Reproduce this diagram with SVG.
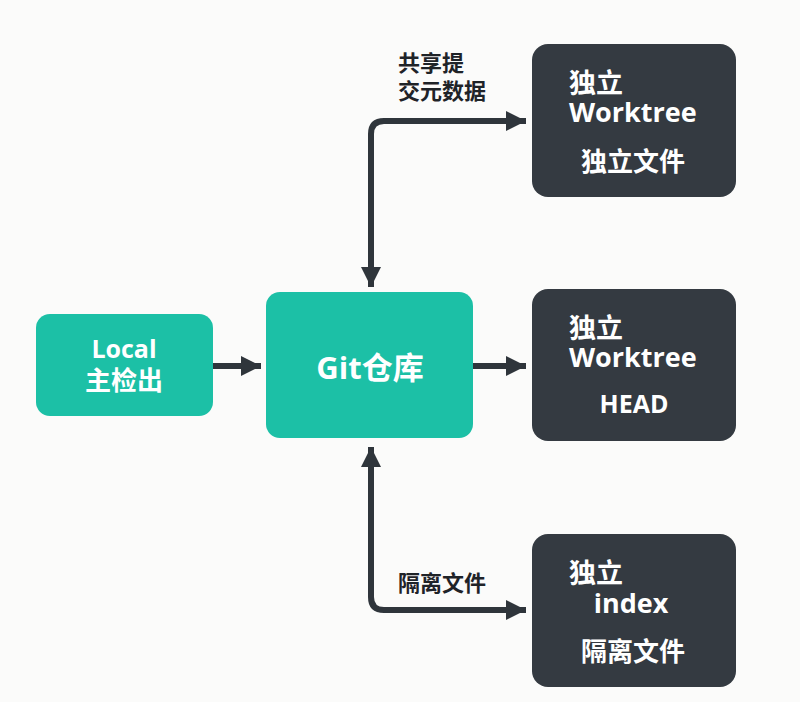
<svg xmlns="http://www.w3.org/2000/svg" width="800" height="702" viewBox="0 0 800 702">
<defs>
<style>
.teal{fill:#1cc0a6}
.dark{fill:#343a41}
.t{font-family:"Open Sans","Noto Sans CJK SC",sans-serif;font-weight:bold;fill:#ffffff}
.lbl{font-family:"Noto Sans CJK SC","Noto Sans",sans-serif;font-weight:bold;fill:#1f2328;font-size:22px}
.conn{fill:none;stroke:#2f353b;stroke-width:6}
</style>
<marker id="ah" viewBox="0 0 10 10" refX="10" refY="5" markerWidth="3.4" markerHeight="3.4" markerUnits="strokeWidth" orient="auto-start-reverse">
<path d="M0,0 L10,5 L0,10 Z" fill="#2f353b"/>
</marker>
</defs>
<rect width="800" height="702" fill="#fbfbfa"/>
<g id="connectors">
<path class="conn" d="M212,366 L261,366" marker-end="url(#ah)"/>
<path class="conn" d="M473,366 L526,366" marker-end="url(#ah)"/>
<path class="conn" d="M526,121 L384,121 Q371,121 371,134 L371,287" marker-start="url(#ah)" marker-end="url(#ah)"/>
<path class="conn" d="M371,447 L371,597 Q371,610 384,610 L526,610" marker-start="url(#ah)" marker-end="url(#ah)"/>
<text class="lbl" x="398" y="71">共享提</text>
<text class="lbl" x="398" y="99">交元数据</text>
<text class="lbl" x="398" y="591">隔离文件</text>
</g>
<g id="local">
<rect class="teal" x="36" y="314" width="177" height="102" rx="14"/>
<text class="t" x="124" y="358" font-size="25" text-anchor="middle">Local</text>
<text class="t" x="124" y="390" font-size="26" text-anchor="middle">主检出</text>
</g>
<g id="git">
<rect class="teal" x="266" y="292" width="207" height="146" rx="14"/>
<text class="t" x="370" y="379" font-size="31" text-anchor="middle">Git仓库</text>
</g>
<g id="wt1">
<rect class="dark" x="532" y="44" width="204" height="153" rx="16"/>
<text class="t" x="569" y="93" font-size="27">独立</text>
<text class="t" x="569" y="122" font-size="27">Worktree</text>
<text class="t" x="633" y="171" font-size="26" text-anchor="middle">独立文件</text>
</g>
<g id="wt2">
<rect class="dark" x="532" y="289" width="204" height="152" rx="16"/>
<text class="t" x="569" y="338" font-size="27">独立</text>
<text class="t" x="569" y="367" font-size="27">Worktree</text>
<text class="t" x="634" y="413" font-size="25" text-anchor="middle">HEAD</text>
</g>
<g id="wt3">
<rect class="dark" x="532" y="534" width="204" height="153" rx="16"/>
<text class="t" x="569" y="583" font-size="27">独立</text>
<text class="t" x="631" y="613" font-size="27" text-anchor="middle">index</text>
<text class="t" x="633" y="661" font-size="26" text-anchor="middle">隔离文件</text>
</g>
</svg>
